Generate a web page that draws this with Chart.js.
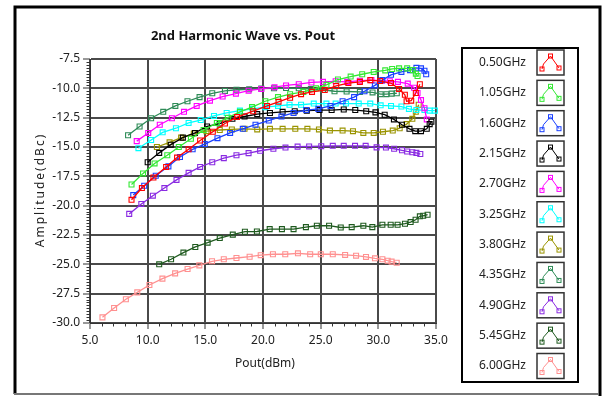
<!DOCTYPE html>
<html>
<head>
<meta charset="utf-8">
<script src="https://cdn.jsdelivr.net/npm/chart.js@4.4.1/dist/chart.umd.min.js"></script>
<style>
  html, body { margin: 0; padding: 0; background: #ffffff; }
  #wrap { position: relative; width: 606px; height: 396px; }
  canvas { display: block; }
</style>
</head>
<body>
<div id="wrap"><canvas id="c" width="606" height="396"></canvas></div>
<script>
// ---- Data ----
const seriesLabels = ["0.50GHz","1.05GHz","1.60GHz","2.15GHz","2.70GHz","3.25GHz","3.80GHz","4.35GHz","4.90GHz","5.45GHz","6.00GHz"];
const seriesColors = ["#ff0000","#33e833","#1a40ff","#000000","#ff00ff","#00ffff","#9a9400","#2e8b57","#8a2be2","#1f5a1f","#ff9090"];

const pout050 = [8.6,9.5,10.5,11.6,12.55,13.55,14.55,15.65,16.7,17.75,19.15,20.35,21.35,22.35,23.3,24.25,25.35,26.35,27.4,28.4,29.3,30.15,31.1,31.8,32.3,32.45,32.85,33.25,33.6];
const amp050  = [-19.5,-18.5,-17.6,-16.7,-15.9,-15.2,-14.45,-13.7,-13.0,-12.45,-11.95,-11.5,-11.15,-10.8,-10.5,-10.3,-10.15,-9.8,-9.55,-9.45,-9.3,-9.38,-9.55,-10.05,-10.55,-11.1,-11.05,-10.4,-9.65];

const pout105 = [8.6,9.6,10.6,11.7,12.7,13.75,14.85,16.0,16.95,18.0,19.05,20.2,21.3,22.35,23.5,24.6,25.5,26.5,27.6,28.6,29.6,30.6,31.2,31.8,32.5,33.0,33.25,33.4];
const amp105  = [-18.2,-17.25,-16.4,-15.7,-15.0,-14.3,-13.55,-12.95,-12.5,-12.0,-11.6,-11.1,-10.75,-10.5,-10.3,-10.0,-9.7,-9.25,-9.0,-8.8,-8.6,-8.47,-8.35,-8.3,-8.3,-8.45,-8.75,-8.95];

const pout160 = [8.75,9.7,10.7,11.8,12.8,13.9,14.95,16.05,17.15,18.25,19.35,20.5,21.6,22.65,23.75,24.8,25.85,26.9,27.9,28.8,29.7,30.35,31.1,32.0,32.75,33.3,33.7,34.0,34.15];
const amp160  = [-19.1,-18.3,-17.45,-16.65,-15.85,-15.2,-14.75,-14.25,-13.8,-13.45,-13.1,-12.75,-12.4,-12.1,-11.85,-11.75,-11.5,-11.1,-10.75,-10.25,-9.75,-9.3,-8.85,-8.6,-8.45,-8.25,-8.3,-8.5,-8.8];

const pout215 = [10.0,11.0,12.0,13.05,14.1,15.15,16.25,17.35,18.4,19.5,20.6,21.7,22.75,23.8,24.9,25.95,27.0,28.0,28.95,29.75,30.55,31.35,32.05,32.7,33.2,33.7,34.2,34.45,34.6];
const amp215  = [-16.3,-15.5,-14.8,-14.2,-13.8,-13.25,-13.0,-12.6,-12.4,-12.2,-12.1,-12.0,-11.95,-11.9,-11.85,-11.85,-11.8,-11.85,-11.95,-12.05,-12.25,-12.65,-13.1,-13.45,-13.65,-13.65,-13.45,-13.05,-12.85];

const pout270 = [9.05,10.05,11.05,12.1,13.15,14.25,15.4,16.5,17.65,18.75,19.85,21.0,22.0,23.1,24.2,25.2,26.3,27.3,28.4,29.4,30.3,31.0,31.7,32.55,33.1,33.4,33.7,34.0,34.2];
const amp270  = [-14.5,-13.8,-13.1,-12.55,-12.0,-11.5,-11.05,-10.7,-10.45,-10.2,-10.05,-9.9,-9.75,-9.65,-9.5,-9.45,-9.4,-9.45,-9.35,-9.3,-9.35,-9.4,-9.45,-9.6,-9.95,-10.4,-11.0,-11.7,-12.65];

const pout325 = [9.2,10.3,11.3,12.45,13.55,14.6,15.75,16.85,18.0,19.1,20.2,21.3,22.3,23.3,24.4,25.5,26.3,27.2,28.3,29.3,30.2,31.1,32.0,32.65,33.3,34.0,34.45,34.9];
const amp325  = [-15.1,-14.4,-13.75,-13.4,-12.95,-12.7,-12.35,-12.1,-11.9,-11.75,-11.6,-11.5,-11.4,-11.4,-11.3,-11.3,-11.3,-11.3,-11.3,-11.3,-11.45,-11.5,-11.55,-11.75,-11.85,-11.85,-11.9,-11.9];

const pout380 = [10.8,11.9,12.9,14.0,15.1,16.25,17.3,18.4,19.5,20.6,21.7,22.8,23.85,24.85,25.8,26.9,27.8,28.7,29.6,30.4,31.25,31.85,32.45,32.95,33.25,33.5];
const amp380  = [-15.0,-14.6,-14.2,-13.85,-13.65,-13.55,-13.5,-13.45,-13.5,-13.45,-13.45,-13.45,-13.45,-13.5,-13.6,-13.6,-13.65,-13.8,-13.8,-13.7,-13.6,-13.4,-13.05,-12.6,-12.0,-11.4];

const pout435 = [8.3,9.3,10.3,11.35,12.4,13.45,14.5,15.6,16.7,17.7,18.8,19.85,20.95,22.0,23.1,24.15,25.2,26.2,27.25,28.4,29.5,30.2,30.7,31.15,31.6];
const amp435  = [-14.0,-13.25,-12.55,-12.0,-11.5,-11.1,-10.75,-10.42,-10.22,-10.12,-10.08,-10.02,-10.0,-9.98,-10.0,-10.05,-10.12,-10.25,-10.27,-10.3,-10.35,-10.5,-10.5,-10.45,-10.42];

const pout490 = [8.4,9.45,10.45,11.45,12.5,13.55,14.55,15.6,16.6,17.7,18.75,19.75,20.9,21.95,23.0,24.0,25.05,26.05,27.0,27.98,28.9,29.85,30.66,31.37,32.05,32.5,32.95,33.3,33.64];
const amp490  = [-20.7,-19.85,-19.15,-18.5,-17.8,-17.2,-16.7,-16.3,-15.95,-15.7,-15.52,-15.32,-15.15,-15.05,-14.97,-14.95,-14.93,-14.9,-14.9,-14.9,-14.9,-15.03,-15.05,-15.15,-15.28,-15.38,-15.45,-15.5,-15.6];

const pout545 = [11.0,12.03,13.1,14.13,15.2,16.25,17.38,18.43,19.47,20.58,21.64,22.65,23.72,24.67,25.73,26.74,27.69,28.7,29.48,30.35,31.07,31.67,32.31,32.8,33.23,33.6,33.89,34.27];
const amp545  = [-25.0,-24.57,-24.0,-23.52,-23.15,-22.76,-22.47,-22.22,-22.2,-22.0,-22.0,-22.0,-21.83,-21.71,-21.71,-21.86,-21.83,-21.71,-21.83,-21.63,-21.63,-21.63,-21.54,-21.4,-21.2,-20.91,-20.86,-20.77];

const pout600 = [6.08,7.09,8.11,9.1,10.15,11.28,12.38,13.46,14.48,15.58,16.6,17.7,18.84,19.8,20.86,21.93,23.03,24.09,25.01,26.05,27.12,28.07,28.93,29.71,30.35,30.81,31.15,31.59];
const amp600  = [-29.52,-28.72,-27.98,-27.39,-26.76,-26.22,-25.77,-25.4,-25.09,-24.74,-24.57,-24.46,-24.35,-24.22,-24.14,-24.14,-24.06,-24.14,-24.14,-24.14,-24.2,-24.26,-24.37,-24.49,-24.57,-24.69,-24.77,-24.86];

const xTickValues = [5.0,10.0,15.0,20.0,25.0,30.0,35.0];
const yTickValues = [-30.0,-27.5,-25.0,-22.5,-20.0,-17.5,-15.0,-12.5,-10.0,-7.5];
const chartTitle = "2nd Harmonic Wave vs. Pout";
const xAxisTitle = "Pout(dBm)";
const yAxisTitle = "Amplitude(dBc)";

// ---- Build datasets ----
const allX = [pout050,pout105,pout160,pout215,pout270,pout325,pout380,pout435,pout490,pout545,pout600];
const allY = [amp050,amp105,amp160,amp215,amp270,amp325,amp380,amp435,amp490,amp545,amp600];

const datasets = seriesLabels.map((lab, i) => ({
  label: lab,
  data: allX[i].map((x, k) => ({ x: x, y: allY[i][k] })),
  borderColor: seriesColors[i],
  backgroundColor: seriesColors[i],
  borderWidth: 1.3,
  pointStyle: 'rect',
  pointRadius: 3.5,
  pointBorderWidth: 1.1,
  pointBackgroundColor: 'rgba(255,255,255,0)',
  pointBorderColor: seriesColors[i],
  tension: 0,
  clip: false
}));

const FONT = "'Noto Sans', 'DejaVu Sans', sans-serif";
Chart.defaults.font.family = FONT;
Chart.defaults.font.size = 12;
Chart.defaults.color = '#222';

const PLOT = { left: 90, right: 436, top: 59, bottom: 323 };

const decorPlugin = {
  id: 'decor',
  beforeDraw(chart) {
    const ctx = chart.ctx;
    ctx.save();
    ctx.fillStyle = '#ffffff';
    ctx.fillRect(0, 0, chart.width, chart.height);
    ctx.restore();
  },
  afterDraw(chart) {
    const ctx = chart.ctx;
    const xs = chart.scales.x, ys = chart.scales.y;
    ctx.save();
    // minor ticks
    ctx.strokeStyle = '#333';
    ctx.lineWidth = 1;
    ctx.beginPath();
    for (let v = 5; v <= 35.001; v += 1) {
      if (Math.abs(v % 5) < 1e-6) continue;
      const px = Math.round(xs.getPixelForValue(v)) + 0.5;
      ctx.moveTo(px, ys.bottom);
      ctx.lineTo(px, ys.bottom + 3.5);
    }
    for (let k = 0; k <= 90; k++) {
      const v = -30 + k * 0.25;
      if (k % 10 === 0) continue;
      const py = Math.round(ys.getPixelForValue(v)) + 0.5;
      ctx.moveTo(xs.left - 3.5, py);
      ctx.lineTo(xs.left, py);
    }
    ctx.stroke();

    // titles
    ctx.fillStyle = '#111';
    ctx.textAlign = 'center';
    ctx.textBaseline = 'middle';
    ctx.font = "bold 13px " + FONT;
    ctx.fillText(chartTitle, 243, 36);
    ctx.fillStyle = '#222';
    ctx.font = "12px " + FONT;
    ctx.fillText(xAxisTitle, 265, 364);
    ctx.save();
    ctx.translate(41, 190);
    ctx.rotate(-Math.PI / 2);
    try { ctx.letterSpacing = '2px'; } catch (e) {}
    ctx.fillText(yAxisTitle, 0, 0);
    ctx.restore();

    // legend box
    const lx0 = 462, ly0 = 48, lx1 = 578, ly1 = 382;
    ctx.strokeStyle = '#000';
    ctx.lineWidth = 2;
    ctx.strokeRect(lx0, ly0, lx1 - lx0, ly1 - ly0);
    chart.data.datasets.forEach((ds, i) => {
      const yc = 62.5 + i * 30.35;
      ctx.fillStyle = '#222';
      ctx.textAlign = 'right';
      ctx.textBaseline = 'middle';
      ctx.font = "12px " + FONT;
      ctx.fillText(ds.label, 526, yc);
      // icon box
      const bx = 537, by = yc - 12.5, bw = 27, bh = 25;
      ctx.strokeStyle = '#333';
      ctx.lineWidth = 1.5;
      ctx.strokeRect(bx, by, bw, bh);
      const p0 = [bx + 5, by + 19], p1 = [bx + 13.5, by + 6], p2 = [bx + 22, by + 18];
      ctx.strokeStyle = ds.borderColor;
      ctx.lineWidth = 1;
      ctx.beginPath();
      ctx.moveTo(p0[0], p0[1]);
      ctx.lineTo(p0[0] + 1.5, by + 14);
      ctx.lineTo(p1[0], p1[1]);
      ctx.lineTo(p2[0], p2[1]);
      ctx.stroke();
      [p0, p1, p2].forEach(p => {
        ctx.strokeRect(p[0] - 2, p[1] - 2, 4, 4);
      });
    });

    // outer frame
    ctx.strokeStyle = '#000';
    ctx.lineWidth = 3;
    ctx.beginPath();
    ctx.moveTo(15, 394);
    ctx.lineTo(15, 7);
    ctx.lineTo(600, 7);
    ctx.lineTo(600, 396);
    ctx.stroke();
    ctx.strokeStyle = '#777';
    ctx.lineWidth = 2;
    ctx.beginPath();
    ctx.moveTo(14, 394);
    ctx.lineTo(599, 394);
    ctx.stroke();
    ctx.restore();
  }
};

new Chart(document.getElementById('c'), {
  type: 'line',
  data: { datasets: datasets },
  options: {
    responsive: false,
    animation: false,
    devicePixelRatio: 1,
    layout: { padding: { left: 0, top: PLOT.top, right: 606 - PLOT.right, bottom: 0 } },
    plugins: { legend: { display: false }, tooltip: { enabled: false }, title: { display: false } },
    scales: {
      x: {
        type: 'linear',
        min: 5, max: 35,
        afterBuildTicks: (s) => { s.ticks = xTickValues.map(v => ({ value: v })); },
        afterFit: (s) => { s.height = 396 - PLOT.bottom; },
        ticks: { callback: (v) => Number(v).toFixed(1), padding: 4, maxRotation: 0, color: '#222', font: { size: 12 } },
        grid: { color: '#4a4a4a', lineWidth: 2, tickLength: 6, tickColor: '#333', tickWidth: 1 },
        border: { display: true, color: '#333', width: 1 }
      },
      y: {
        type: 'linear',
        min: -30, max: -7.5,
        afterBuildTicks: (s) => { s.ticks = yTickValues.map(v => ({ value: v })); },
        afterFit: (s) => { s.width = PLOT.left; },
        ticks: { callback: (v) => Number(v).toFixed(1), padding: 3, color: '#222', font: { size: 12 } },
        grid: { color: '#4a4a4a', lineWidth: 2, tickLength: 7, tickColor: '#333', tickWidth: 1 },
        border: { display: true, color: '#333', width: 1 }
      }
    }
  },
  plugins: [decorPlugin]
});
</script>
</body>
</html>
